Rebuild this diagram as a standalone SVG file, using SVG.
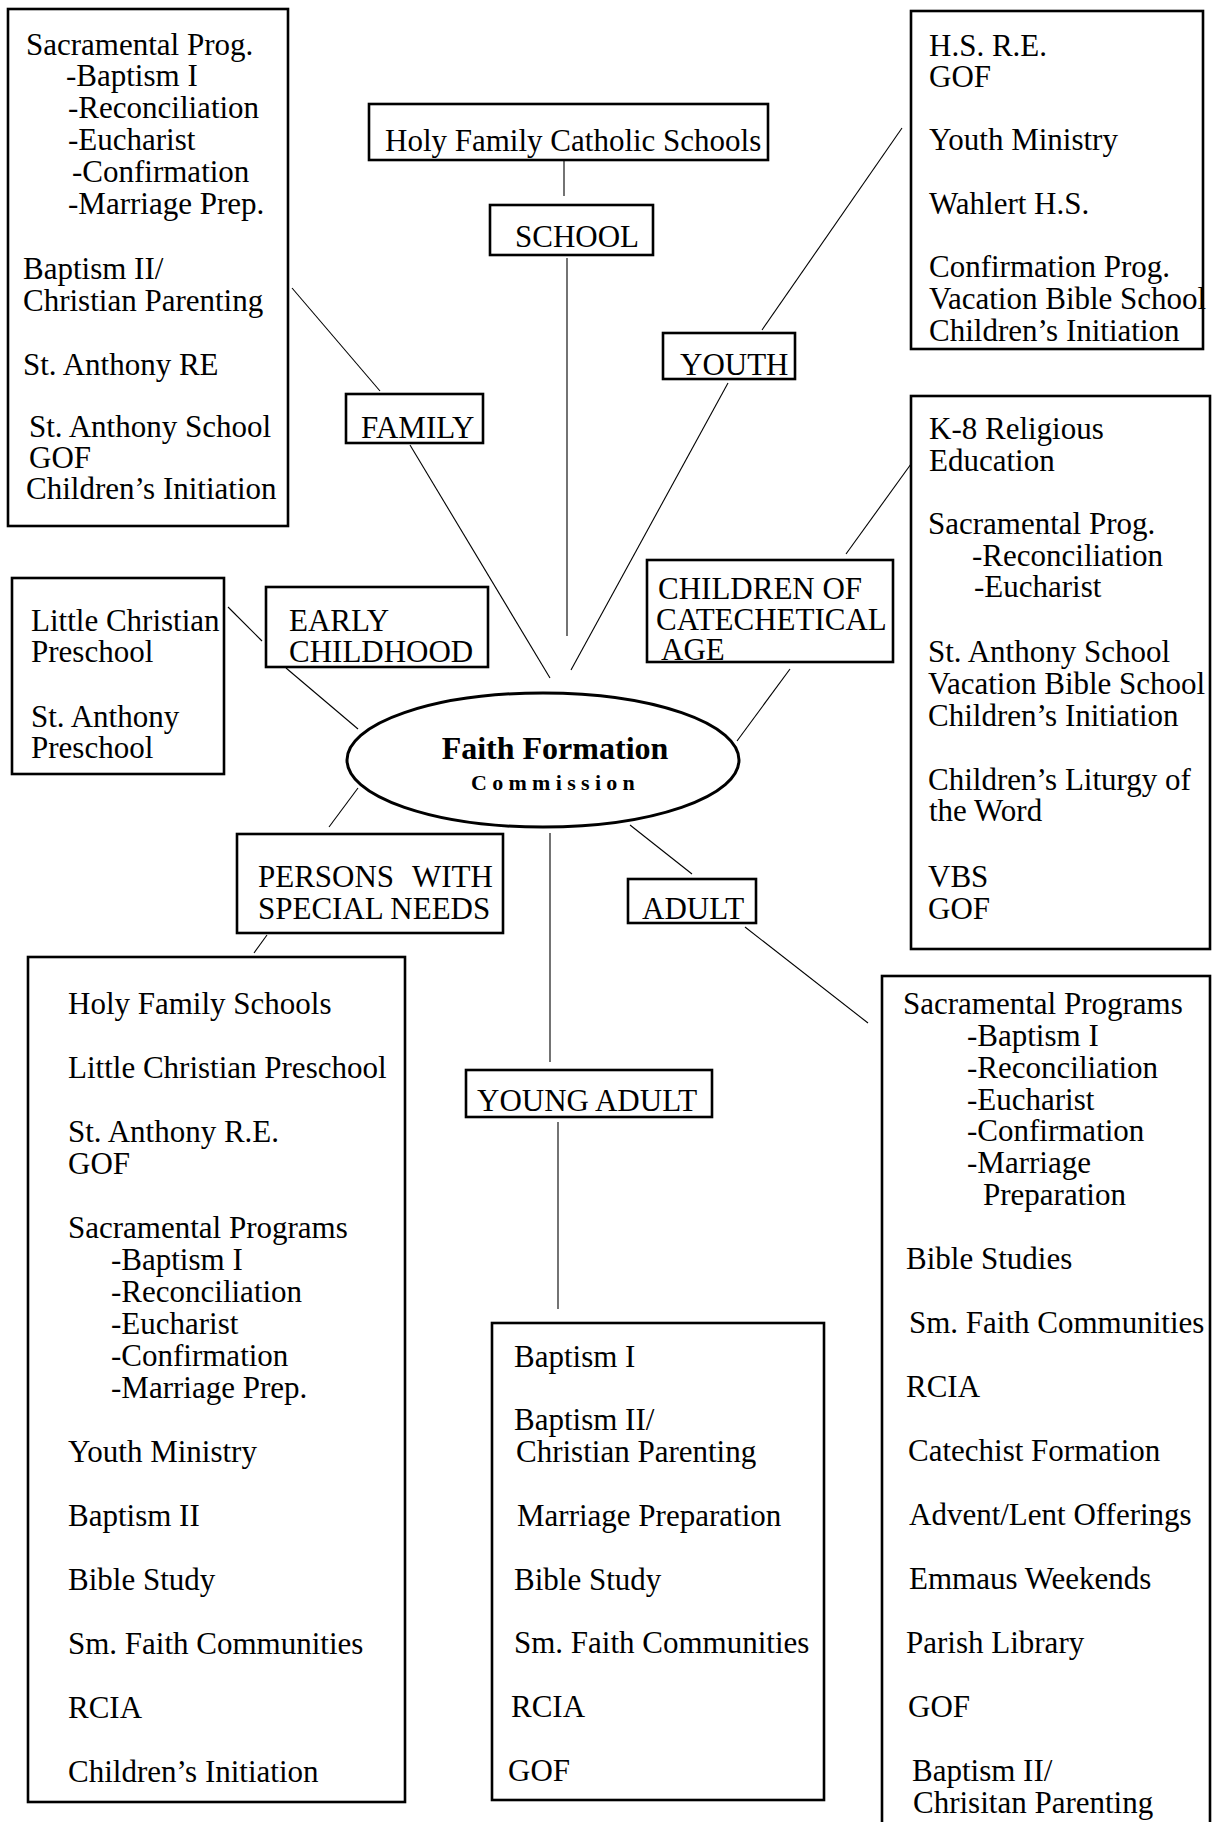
<svg xmlns="http://www.w3.org/2000/svg" width="1212" height="1822" viewBox="0 0 1212 1822">
<style>
text{font-family:"Liberation Serif","Times New Roman",serif;font-size:31px;fill:#000}
.box{fill:#fff;stroke:#000;stroke-width:2.6}
.ell{fill:#fff;stroke:#000;stroke-width:3}
.c line{stroke:#000;stroke-width:1.1}
text.t1{font-weight:bold;font-size:32px}
text.t2{font-weight:bold;font-size:22px;letter-spacing:5.3px}
</style>
<rect width="1212" height="1822" fill="#fff"/>
<g class="c" id="connectors">
<line x1="292" y1="288" x2="380" y2="391"/>
<line x1="410" y1="445" x2="550" y2="678"/>
<line x1="564" y1="161" x2="564" y2="196"/>
<line x1="567" y1="258" x2="567" y2="636"/>
<line x1="902" y1="128" x2="762" y2="330"/>
<line x1="728" y1="383" x2="571" y2="670"/>
<line x1="228" y1="607" x2="262" y2="641"/>
<line x1="286" y1="668" x2="358" y2="729"/>
<line x1="358" y1="788" x2="329" y2="827"/>
<line x1="267" y1="935" x2="254" y2="953"/>
<line x1="911" y1="464" x2="846" y2="554"/>
<line x1="790" y1="669" x2="737" y2="741"/>
<line x1="630" y1="825" x2="692" y2="874"/>
<line x1="745" y1="927" x2="868" y2="1023"/>
<line x1="550" y1="833" x2="550" y2="1062"/>
<line x1="558" y1="1122" x2="558" y2="1309"/>
</g>
<g id="family-list">
<rect class="box" x="8" y="9" width="280" height="517"/>
<text x="26" y="55">Sacramental Prog.</text>
<text x="66" y="86">-Baptism I</text>
<text x="68" y="118">-Reconciliation</text>
<text x="68" y="150">-Eucharist</text>
<text x="72" y="182">-Confirmation</text>
<text x="68" y="214">-Marriage Prep.</text>
<text x="23" y="279">Baptism II/</text>
<text x="23" y="311">Christian Parenting</text>
<text x="23" y="375">St. Anthony RE</text>
<text x="29" y="437">St. Anthony School</text>
<text x="29" y="468">GOF</text>
<text x="26" y="499">Children’s Initiation</text>
</g>
<g id="hfcs">
<rect class="box" x="369" y="104" width="399" height="56"/>
<text x="385" y="151">Holy Family Catholic Schools</text>
</g>
<g id="school">
<rect class="box" x="490" y="205" width="163" height="50"/>
<text x="515" y="247">SCHOOL</text>
</g>
<g id="youth-list">
<rect class="box" x="911" y="11" width="292" height="338"/>
<text x="929" y="56">H.S. R.E.</text>
<text x="929" y="87">GOF</text>
<text x="929" y="150">Youth Ministry</text>
<text x="929" y="214">Wahlert H.S.</text>
<text x="929" y="277">Confirmation Prog.</text>
<text x="929" y="309">Vacation Bible School</text>
<text x="929" y="341">Children’s Initiation</text>
</g>
<g id="youth">
<rect class="box" x="663" y="333" width="132" height="46"/>
<text x="680" y="375">YOUTH</text>
</g>
<g id="family">
<rect class="box" x="346" y="394" width="137" height="49"/>
<text x="361" y="438">FAMILY</text>
</g>
<g id="preschool-list">
<rect class="box" x="12" y="578" width="212" height="196"/>
<text x="31" y="631">Little Christian</text>
<text x="31" y="662">Preschool</text>
<text x="31" y="727">St. Anthony</text>
<text x="31" y="758">Preschool</text>
</g>
<g id="early-childhood">
<rect class="box" x="266" y="587" width="222" height="80"/>
<text x="289" y="631">EARLY</text>
<text x="289" y="662">CHILDHOOD</text>
</g>
<g id="children-catechetical">
<rect x="647" y="560" width="246" height="102" fill="#fff"/>
<text x="658" y="599">CHILDREN OF</text>
<text x="656" y="630">CATECHETICAL</text>
<text x="661" y="660">AGE</text>
<rect x="647" y="560" width="246" height="102" fill="none" stroke="#000" stroke-width="2.6"/>
</g>
<g id="k8-list">
<rect class="box" x="911" y="396" width="299" height="553"/>
<text x="929" y="439">K-8 Religious</text>
<text x="929" y="471">Education</text>
<text x="928" y="534">Sacramental Prog.</text>
<text x="972" y="566">-Reconciliation</text>
<text x="974" y="597">-Eucharist</text>
<text x="928" y="662">St. Anthony School</text>
<text x="928" y="694">Vacation Bible School</text>
<text x="928" y="726">Children’s Initiation</text>
<text x="928" y="790">Children’s Liturgy of</text>
<text x="929" y="821">the Word</text>
<text x="928" y="887">VBS</text>
<text x="928" y="919">GOF</text>
</g>
<g id="commission">
<ellipse class="ell" cx="543" cy="760" rx="196" ry="67"/>
<text class="t1" x="555" y="759" text-anchor="middle">Faith Formation</text>
<text class="t2" x="471" y="790">Commission</text>
</g>
<g id="special-needs">
<rect class="box" x="237" y="834" width="266" height="99"/>
<text x="258" y="887">PERSONS<tspan x="412">WITH</tspan></text>
<text x="258" y="919">SPECIAL NEEDS</text>
</g>
<g id="adult">
<rect class="box" x="628" y="879" width="128" height="44"/>
<text x="642" y="919">ADULT</text>
</g>
<g id="special-list">
<rect class="box" x="28" y="957" width="377" height="845"/>
<text x="68" y="1014">Holy Family Schools</text>
<text x="68" y="1078">Little Christian Preschool</text>
<text x="68" y="1142">St. Anthony R.E.</text>
<text x="68" y="1174">GOF</text>
<text x="68" y="1238">Sacramental Programs</text>
<text x="111" y="1270">-Baptism I</text>
<text x="111" y="1302">-Reconciliation</text>
<text x="111" y="1334">-Eucharist</text>
<text x="111" y="1366">-Confirmation</text>
<text x="111" y="1398">-Marriage Prep.</text>
<text x="68" y="1462">Youth Ministry</text>
<text x="68" y="1526">Baptism II</text>
<text x="68" y="1590">Bible Study</text>
<text x="68" y="1654">Sm. Faith Communities</text>
<text x="68" y="1718">RCIA</text>
<text x="68" y="1782">Children’s Initiation</text>
</g>
<g id="young-adult">
<rect class="box" x="466" y="1070" width="246" height="47"/>
<text x="477" y="1111">YOUNG ADULT</text>
</g>
<g id="young-adult-list">
<rect class="box" x="492" y="1323" width="332" height="477"/>
<text x="514" y="1367">Baptism I</text>
<text x="514" y="1430">Baptism II/</text>
<text x="516" y="1462">Christian Parenting</text>
<text x="517" y="1526">Marriage Preparation</text>
<text x="514" y="1590">Bible Study</text>
<text x="514" y="1653">Sm. Faith Communities</text>
<text x="511" y="1717">RCIA</text>
<text x="508" y="1781">GOF</text>
</g>
<g id="adult-list">
<rect class="box" x="882" y="976" width="328" height="870"/>
<text x="903" y="1014">Sacramental Programs</text>
<text x="967" y="1046">-Baptism I</text>
<text x="967" y="1078">-Reconciliation</text>
<text x="967" y="1110">-Eucharist</text>
<text x="967" y="1141">-Confirmation</text>
<text x="967" y="1173">-Marriage</text>
<text x="983" y="1205">Preparation</text>
<text x="906" y="1269">Bible Studies</text>
<text x="909" y="1333">Sm. Faith Communities</text>
<text x="906" y="1397">RCIA</text>
<text x="908" y="1461">Catechist Formation</text>
<text x="909" y="1525">Advent/Lent Offerings</text>
<text x="909" y="1589">Emmaus Weekends</text>
<text x="906" y="1653">Parish Library</text>
<text x="908" y="1717">GOF</text>
<text x="912" y="1781">Baptism II/</text>
<text x="913" y="1813">Chrisitan Parenting</text>
</g>
</svg>
